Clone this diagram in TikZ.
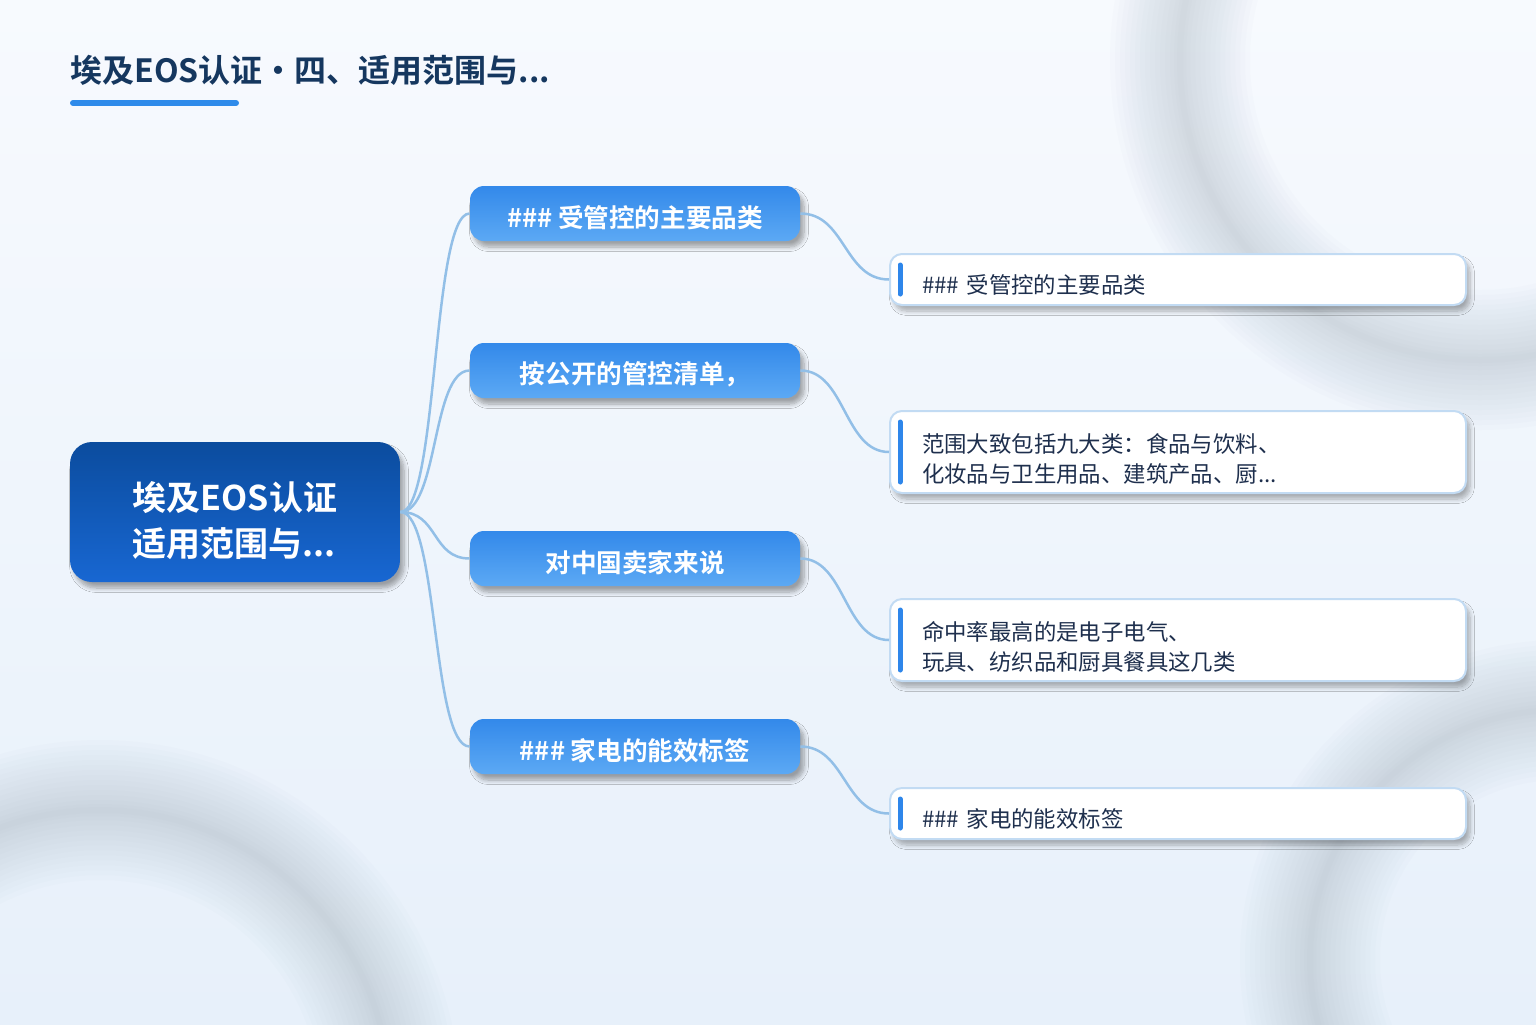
\documentclass[tikz,border=0pt]{standalone}
\usepackage{fontspec}
\setmainfont{Noto Sans CJK SC}
\newfontfamily\cjkb{Noto Sans CJK SC Bold}
\newfontfamily\cjkr{Noto Sans CJK SC}
\usetikzlibrary{shadows.blur,calc}
\definecolor{titlec}{HTML}{15375F}
\definecolor{barc}{HTML}{2E8BEA}
\definecolor{roottop}{HTML}{0B4C9E}
\definecolor{rootbot}{HTML}{1867D2}
\definecolor{ltop}{HTML}{3389EA}
\definecolor{lbot}{HTML}{5CA9F4}
\definecolor{connc}{HTML}{92BFE7}
\definecolor{boxborder}{HTML}{C2DBF3}
\definecolor{accentc}{HTML}{2E86EA}
\definecolor{textc}{HTML}{1E2F4D}
\definecolor{bgtop}{HTML}{F7FAFE}
\definecolor{bgbot}{HTML}{E7F0FA}
\definecolor{ringc}{HTML}{8E9CAE}
\newcommand{\lowr}[2]{\raisebox{-#1}[\height][\depth]{#2}}
\tikzset{
  rootbox/.style={rounded corners=11pt, top color=roottop, bottom color=rootbot, draw=none,
    minimum width=165pt, minimum height=70pt, text=white, align=left,
    font=\cjkb\fontsize{17pt}{23pt}\selectfont,
    blur shadow={shadow xshift=2pt, shadow yshift=-3pt, shadow blur steps=8, shadow opacity=35}},
  lonebox/.style={rounded corners=7pt, top color=ltop, bottom color=lbot, draw=none,
    minimum width=165pt, minimum height=27.5pt, text=white,
    font=\cjkb\fontsize{12.8pt}{15pt}\selectfont,
    blur shadow={shadow xshift=2pt, shadow yshift=-3pt, shadow blur steps=8, shadow opacity=35}},
  ltwobox/.style={rounded corners=6pt, fill=white, draw=boxborder, line width=1pt,
    minimum width=288pt, text width=256pt, inner xsep=16pt, align=left, text=textc,
    font=\cjkr\fontsize{11.2pt}{15pt}\selectfont,
    blur shadow={shadow xshift=2pt, shadow yshift=-3pt, shadow blur steps=8, shadow opacity=30}},
  conn/.style={draw=connc, line width=1.25pt},
  accent/.style={draw=accentc, line width=2.5pt, line cap=round},
  ring/.style={draw=ringc, opacity=0.022},
}
\begin{document}
\begin{tikzpicture}[x=0.5pt,y=-0.5pt]
\useasboundingbox (0,0) rectangle (1536,1024);
% background
\shade[top color=bgtop, bottom color=bgbot] (0,0) rectangle (1536,1024);
\begin{scope}
\clip (0,0) rectangle (1536,1024);
\foreach \w in {70,65,60,55,50,45,40,35,30,25,20,15,10,6,3}{
  \draw[ring, line width=\w pt] (1480,60) circle (300);
  \draw[ring, line width=\w pt] (100,1100) circle (290);
  \draw[ring, line width=\w pt] (1560,960) circle (250);
}
\end{scope}
% title
\node[anchor=west, inner sep=0pt, text=titlec, font=\cjkb\fontsize{16pt}{18pt}\selectfont] (title) at (70,70) {埃及EOS认证・四、适用范围与...};
\coordinate (barA) at (73,103);
\coordinate (barB) at (236,103);
\draw[barc, line width=3pt, line cap=round] (barA) -- (barB);
% root
\node[rootbox] (root) at (235,512) {\lowr{6pt}{\begin{tabular}{@{}l@{}}埃及EOS认证\\适用范围与...\end{tabular}}};
% level 1
\node[lonebox] (a1) at (635,213.5) {\lowr{2pt}{\#\#\# 受管控的主要品类}};
\node[lonebox] (a2) at (635,370.5) {\lowr{2pt}{按公开的管控清单，}};
\node[lonebox] (a3) at (635,558.5) {\lowr{2pt}{对中国卖家来说}};
\node[lonebox] (a4) at (635,746.5) {\lowr{2pt}{\#\#\# 家电的能效标签}};
% level 2
\node[ltwobox, minimum height=25.5pt] (b1) at (1178,279.5) {\lowr{2.5pt}{\#\#\# 受管控的主要品类}};
\node[ltwobox, minimum height=41pt] (b2) at (1178,452) {\lowr{4.5pt}{\begin{tabular}{@{}l@{}}范围大致包括九大类：食品与饮料、\\化妆品与卫生用品、建筑产品、厨...\end{tabular}}};
\node[ltwobox, minimum height=41pt] (b3) at (1178,640) {\lowr{4.5pt}{\begin{tabular}{@{}l@{}}命中率最高的是电子电气、\\玩具、纺织品和厨具餐具这几类\end{tabular}}};
\node[ltwobox, minimum height=25.5pt] (b4) at (1178,813.5) {\lowr{2.5pt}{\#\#\# 家电的能效标签}};
\foreach \b in {b1,b2,b3,b4}{
  \draw[accent] ([xshift=5.5pt,yshift=-6pt]\b.north west) -- ([xshift=5.5pt,yshift=6pt]\b.south west);
}
% connectors
\foreach \a in {a1,a2,a3,a4}{
  \draw[conn] (root.east) .. controls +(38,0) and +(-38,0) .. (\a.west);
}
\draw[conn] (a1.east) .. controls +(45,0) and +(-45,0) .. (b1.west);
\draw[conn] (a2.east) .. controls +(45,0) and +(-45,0) .. (b2.west);
\draw[conn] (a3.east) .. controls +(45,0) and +(-45,0) .. (b3.west);
\draw[conn] (a4.east) .. controls +(45,0) and +(-45,0) .. (b4.west);
\end{tikzpicture}
\end{document}
